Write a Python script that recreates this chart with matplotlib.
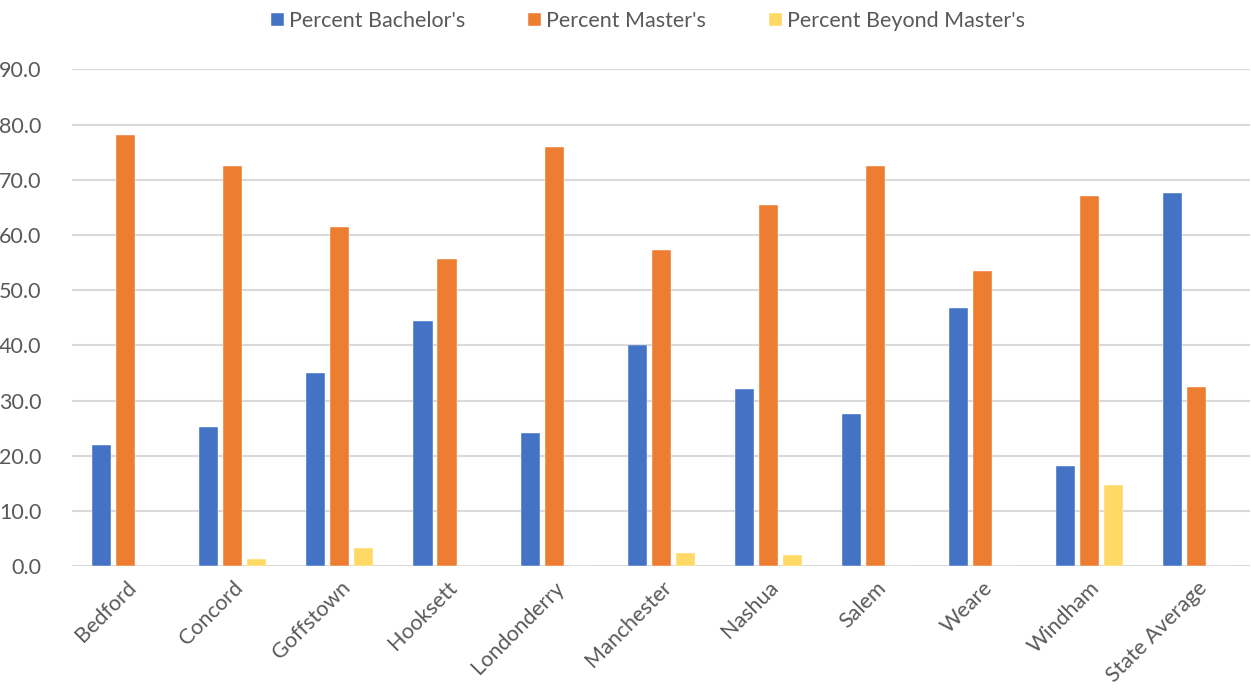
import matplotlib.pyplot as plt
import numpy as np

towns = ["Bedford", "Concord", "Goffstown", "Hooksett", "Londonderry", "Manchester",
         "Nashua", "Salem", "Weare", "Windham", "State Average"]
bachelors = [21.9, 25.2, 35.1, 44.4, 24.1, 40.0, 32.2, 27.5, 46.7, 18.2, 67.6]
masters = [78.1, 72.5, 61.4, 55.6, 75.9, 57.2, 65.4, 72.5, 53.4, 67.0, 32.4]
beyond = [0.0, 1.3, 3.4, 0.0, 0.0, 2.5, 2.0, 0.0, 0.0, 14.7, 0.0]

series = [
    ("Percent Bachelor's", bachelors, "#4472C4"),
    ("Percent Master's", masters, "#ED7D31"),
    ("Percent Beyond Master's", beyond, "#FFD966"),
]

plt.rcParams["font.family"] = ["Lato", "DejaVu Sans"]
text_color = "#595959"

fig = plt.figure(figsize=(12.51, 6.94), dpi=100)
ax = fig.add_axes([0.0576, 0.184, 0.942, 0.716])

x = np.arange(len(towns))
step = 0.224
width = 0.178
for i, (name, vals, color) in enumerate(series):
    ax.bar(x + (i - 1) * step, vals, width, color=color, label=name, zorder=3,
           edgecolor="white", linewidth=0.3)

ax.set_xlim(-0.5, len(towns) - 0.5)
ax.set_ylim(0, 90)
ax.set_yticks(np.arange(0, 91, 10))
ax.set_yticklabels([f"{v:.1f}" for v in np.arange(0, 91, 10)])
ax.yaxis.grid(True, color="#D9D9D9", linewidth=1.5, zorder=0)
ax.set_axisbelow(True)
for s in ax.spines.values():
    s.set_visible(False)
ax.tick_params(axis="both", length=0, labelsize=15.5, colors=text_color)
ax.tick_params(axis="y", pad=22)
ax.set_xticks(x)
ax.set_xticklabels(towns, rotation=45, ha="right", rotation_mode="anchor")
ax.tick_params(axis="x", pad=8)

fig.legend(loc="upper center", bbox_to_anchor=(0.518, 1.012), ncol=3, frameon=False,
           fontsize=15.5, labelcolor=text_color, handlelength=0.6, handleheight=0.6,
           handletextpad=0.25, columnspacing=2.9)

fig.savefig("out.png", dpi=100)
